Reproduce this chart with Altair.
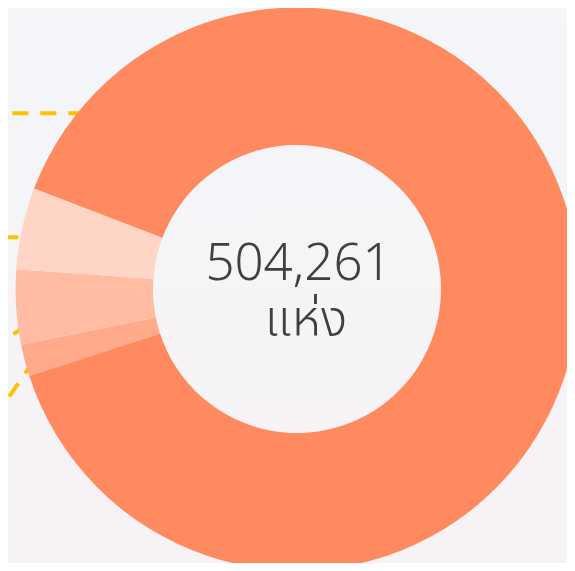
import altair as alt
import pandas as pd
import math

# Donut data (total 504,261)
categories = ["กลุ่ม 4", "กลุ่ม 3", "กลุ่ม 2", "กลุ่ม 1"]
values = [9245, 21571, 23672, 449773]
colors = ["#FFAA8B", "#FFBCA3", "#FFD5C6", "#FF8A5F"]
order_idx = [0, 1, 2, 3]

total_text = "504,261"
unit_text = "แห่ง"

# Leader lines (page pixel coordinates), cropped labels lie off to the left
line_id = ["a", "a", "b", "b", "c", "c", "c", "d", "d"]
line_x = [84.3, -20.0, 46.3, -20.0, 26.9, 11.0, -20.0, 34.0, -11.0]
line_y = [113.3, 113.3, 237.2, 237.2, 325.6, 335.5, 335.5, 360.1, 426.3]
line_i = [0, 1, 0, 1, 0, 1, 2, 0, 1]

W, H = 559, 555
CX, CY = 289, 281
FONT = "Noto Sans Thai, Noto Sans Thai UI, Noto Sans, sans-serif"

pie_df = pd.DataFrame({"cat": categories, "value": values, "idx": order_idx})
lines_df = pd.DataFrame({"id": line_id, "px": line_x, "py": line_y, "i": line_i})
bg_df = pd.DataFrame({"a": [0]})

start = math.radians(252.0)

bg = alt.Chart(bg_df).mark_rect(
    fill=alt.LinearGradient(
        gradient="linear",
        stops=[alt.GradientStop(color="#F4F6FA", offset=0),
               alt.GradientStop(color="#F6F4F7", offset=0.5),
               alt.GradientStop(color="#F7F2F4", offset=1)],
        x1=0, x2=0, y1=0, y2=1,
    )
).encode(x=alt.value(0), x2=alt.value(W), y=alt.value(0), y2=alt.value(H))

leaders = alt.Chart(lines_df).mark_line(
    color="#FFC000", strokeWidth=4, strokeDash=[16, 12], clip=False
).encode(
    x=alt.X("px:Q", scale=alt.Scale(domain=[8, 8 + W], range=[0, W]), axis=None),
    y=alt.Y("py:Q", scale=alt.Scale(domain=[8, 8 + H], range=[0, H]), axis=None),
    detail="id:N",
    order=alt.Order("i:Q"),
)

pie = alt.Chart(pie_df).mark_arc(outerRadius=281.5, innerRadius=144).encode(
    theta=alt.Theta("value:Q", stack=True,
                    scale=alt.Scale(range=[start, start + 2 * math.pi])),
    color=alt.Color("cat:N", scale=alt.Scale(domain=categories, range=colors), legend=None),
    order=alt.Order("idx:Q"),
    x=alt.value(CX),
    y=alt.value(CY),
)

txt1 = alt.Chart(bg_df).mark_text(
    text=total_text, font=FONT, fontWeight=300, fontSize=51,
    color="#404040", align="center", baseline="alphabetic"
).encode(x=alt.value(290.5), y=alt.value(271.5))

txt2 = alt.Chart(bg_df).mark_text(
    text=unit_text, font=FONT, fontWeight=300, fontSize=50,
    color="#404040", align="center", baseline="alphabetic"
).encode(x=alt.value(298), y=alt.value(328))

chart = alt.layer(bg, leaders, pie, txt1, txt2).properties(
    width=W, height=H,
    autosize=alt.AutoSizeParams(type="none"),
    padding=0,
    background="#F5F5F8",
).configure_view(stroke=None)

chart.save("out.html", embed_options={"renderer": "svg", "actions": False})
